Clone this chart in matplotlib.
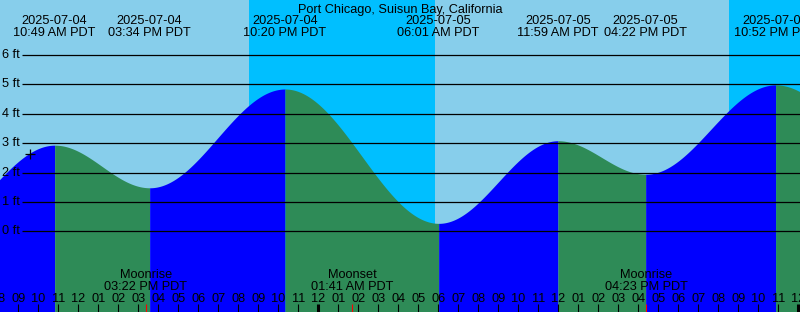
import matplotlib
matplotlib.use("Agg")
import matplotlib.pyplot as plt
import numpy as np

plt.rcParams['font.family'] = ['Liberation Sans', 'DejaVu Sans']

# tide extremes, hours after 2025-07-04 00:00 PDT (first and last are off-chart)
tide_hours = [4.5, 10.817, 15.567, 22.333, 30.017, 35.983, 40.367, 46.867, 53.0]
tide_ft = [0.0, 2.93, 1.48, 4.84, 0.27, 3.08, 1.94, 4.98, 2.5]
tide_dates = ["", "2025-07-04", "2025-07-04", "2025-07-04", "2025-07-05",
              "2025-07-05", "2025-07-05", "2025-07-05", ""]
tide_clock = ["", "10:49 AM PDT", "03:34 PM PDT", "10:20 PM PDT", "06:01 AM PDT",
              "11:59 AM PDT", "04:22 PM PDT", "10:52 PM PDT", ""]

# night periods (sunset, sunrise)
night_start = [20.53, 44.53]
night_end = [29.83, 60.0]

# moon events
moon_hours = [15.367, 25.683, 40.383]
moon_names = ["Moonrise", "Moonset", "Moonrise"]
moon_clock = ["03:22 PM PDT", "01:41 AM PDT", "04:23 PM PDT"]

ft_levels = [0, 1, 2, 3, 4, 5, 6]
now_hour, now_ft = 9.585, 2.64

title = "Port Chicago, Suisun Bay, California"

# pixel layout of the 800x312 image
W, H = 800, 312
X_NOON = 78.3      # x pixel of 12:00 on 07-04
PX_HOUR = 20.0
Y_ZERO = 231.3     # y pixel of 0 ft
PX_FT = 29.4
FS = 9.2

def px_to_hour(x):
    return 12 + (x - X_NOON) / PX_HOUR

def ytop(ypx):
    return 1 - ypx / H

fig = plt.figure(figsize=(W / 100, H / 100), dpi=100)
ax = fig.add_axes([0, 0, 1, 1])
ax.set_xlim(px_to_hour(0), px_to_hour(W))
ax.set_ylim((Y_ZERO - H) / PX_FT, Y_ZERO / PX_FT)
ax.axis('off')
fig.patch.set_facecolor('#87CEEB')
ax.axvspan(px_to_hour(0), px_to_hour(W), color='#87CEEB', zorder=0)

for s, e in zip(night_start, night_end):
    ax.axvspan(s, e, color='#00BFFF', lw=0, zorder=1)

# tide curve, cosine between extremes
bottom = (Y_ZERO - H) / PX_FT
for i in range(len(tide_hours) - 1):
    t0, t1 = tide_hours[i], tide_hours[i + 1]
    h0, h1 = tide_ft[i], tide_ft[i + 1]
    tt = np.linspace(t0, t1, 200)
    hh = h0 + (h1 - h0) * (1 - np.cos(np.pi * (tt - t0) / (t1 - t0))) / 2
    col = '#0000FF' if h1 > h0 else '#2E8B57'
    ax.fill_between(tt, bottom, hh, color=col, lw=0, zorder=2)

# ft grid lines and labels
trans = ax.get_yaxis_transform()
for f in ft_levels:
    ax.hlines(f, 22 / W, 1, transform=trans, color='black', lw=0.9, zorder=3)
    ax.text(2 / W, f, f"{f} ft", transform=trans, ha='left', va='center',
            fontsize=FS, color='black', zorder=4)

ax.plot(now_hour, now_ft, marker='+', color='black', ms=7, mew=0.9, zorder=5)

tx = ax.get_xaxis_transform()
ax.text(0.5, ytop(12.5), title, transform=ax.transAxes, ha='center',
        va='baseline', fontsize=FS, zorder=6)
for t, d, c in zip(tide_hours, tide_dates, tide_clock):
    if not d:
        continue
    ax.text(t, ytop(24), d, transform=tx, ha='center', va='baseline', fontsize=FS, zorder=6)
    ax.text(t, ytop(36), c, transform=tx, ha='center', va='baseline', fontsize=FS, zorder=6)

for t, n, c in zip(moon_hours, moon_names, moon_clock):
    ax.text(t, ytop(277.7), n, transform=tx, ha='center', va='baseline', fontsize=FS, zorder=6)
    ax.text(t, ytop(290), c, transform=tx, ha='center', va='baseline', fontsize=FS, zorder=6)
    ax.vlines(t, ytop(H), ytop(304), transform=tx, color='red', lw=0.8, zorder=6)

# hour ticks along the bottom
for hr in range(8, 49):
    lab = f"{(hr % 12) or 12:02d}"
    ax.text(hr, ytop(302.3), lab, transform=tx, ha='center', va='baseline', fontsize=FS, zorder=6)
    lw = 2.2 if hr % 24 == 0 else 0.8
    ax.vlines(hr, ytop(H), ytop(304), transform=tx, color='black', lw=lw, zorder=6)

fig.savefig('out.png', dpi=100, facecolor=fig.get_facecolor())
